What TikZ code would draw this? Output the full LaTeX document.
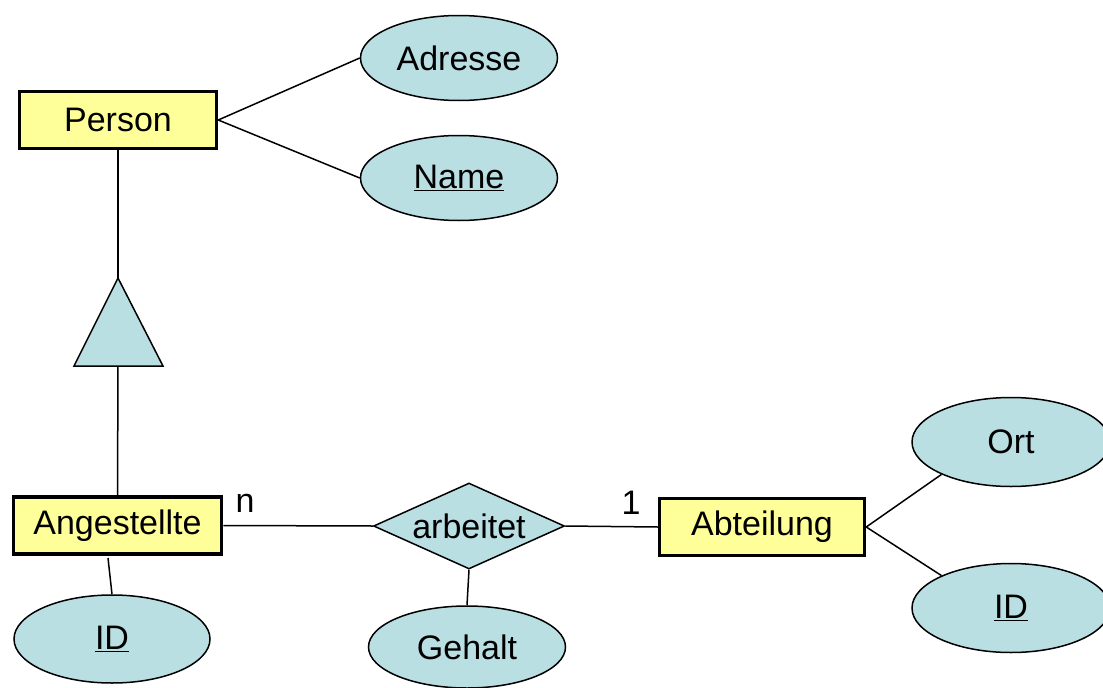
\documentclass[tikz,border=0pt]{standalone}
\usepackage{fontspec}
\setmainfont{Liberation Sans}
\usetikzlibrary{shapes.geometric}
\definecolor{entfill}{RGB}{255,255,153}
\definecolor{attfill}{RGB}{185,223,227}
\tikzset{
  x=1pt, y=-1pt,
  every node/.style={font=\fontsize{34}{39}\selectfont, inner sep=0pt},
  entity/.style={rectangle, draw=black, line width=3.5pt, fill=entfill, minimum height=57pt},
  attr/.style={ellipse, draw=black, line width=1.5pt, fill=attfill, minimum width=197pt, minimum height=85pt},
  rel/.style={diamond, draw=black, line width=1.5pt, fill=attfill, shape aspect=2.22, minimum width=191pt, minimum height=86pt},
  link/.style={line width=1.5pt},
  isa/.style={draw=black, line width=1.5pt, fill=attfill, line join=miter}
}
\begin{document}
\begin{tikzpicture}
\useasboundingbox (0,0) rectangle (1103,688);

% entities
\node[entity, minimum width=197pt] (person) at (118,120) {Person};
\node[entity, minimum width=208pt] (ang) at (117.5,525.5) {Angestellte};
\node[entity, minimum width=205pt] (abt) at (762,527) {Abteilung};

% attributes
\node[attr] (adresse) at (459,58) {Adresse};
\node[attr] (name) at (459,178) {\underline{Name}};
\node[attr, minimum width=196pt, minimum height=88pt] (id1) at (112,639) {\underline{ID}};
\node[attr, minimum width=197pt, minimum height=82pt] (gehalt) at (467,647) {Gehalt};
\node[attr, minimum width=198pt, minimum height=89pt] (ort) at (1011,442) {Ort};
\node[attr, minimum width=198pt, minimum height=89pt] (id2) at (1011,608) {\underline{ID}};

% relationship
\node[rel] (arb) at (469,526) {arbeitet};

% is-a triangle
\coordinate (apex) at (118,278);
\coordinate (base) at (118,366);
\path[isa] (apex) -- (74,366) -- (163,366) -- cycle;

% connectors
\draw[link] (person.east) -- (adresse.west);
\draw[link] (person.east) -- (name.west);
\draw[link] (person.south) -- (apex);
\draw[link] (base) -- (ang.north);
\coordinate (angid) at (108,558);
\draw[link] (angid) -- (id1.north);
\draw[link] (ang.east) -- (arb.west);
\draw[link] (arb.east) -- (abt.west);
\draw[link] (arb.south) -- (gehalt.north);
\draw[link] (abt.east) -- (ort.205);
\draw[link] (abt.east) -- (id2.155);

% cardinalities
\node (cn) at (245,503) {n};
\node (c1) at (631,503) {1};
\end{tikzpicture}
\end{document}
